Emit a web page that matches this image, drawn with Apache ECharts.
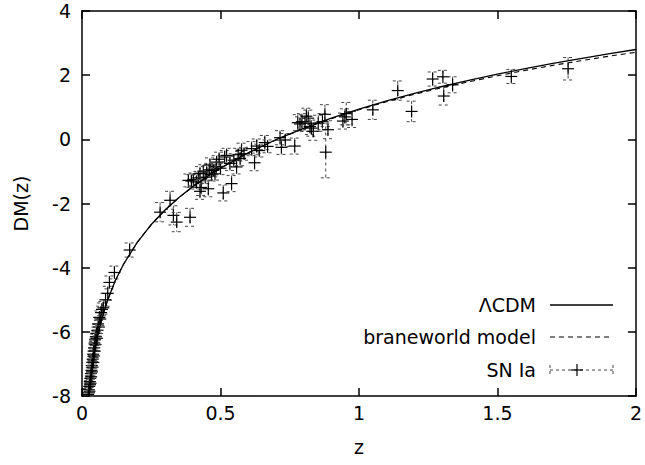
<!DOCTYPE html>
<html>
<head>
<meta charset="utf-8">
<script src="https://cdn.jsdelivr.net/npm/echarts@6/dist/echarts.min.js"></script>
<style>html,body{margin:0;padding:0;background:#fff}#c{width:645px;height:465px}</style>
</head>
<body>
<div id="c"></div>
<script>
// ---- data ----
var xTicks = [0, 0.5, 1, 1.5, 2];
var yTicks = [-8, -6, -4, -2, 0, 2, 4];

var modelZ = [0.015,0.02,0.025,0.03,0.035,0.04,0.045,0.05,0.06,0.07,0.08,0.09,0.1,0.12,0.15,0.2,0.25,0.3,0.35,0.4,0.45,0.5,0.6,0.7,0.8,0.9,1.0,1.1,1.2,1.3,1.4,1.5,1.6,1.7,1.8,1.9,2.0];
var lcdmDM = [-9.094,-8.462,-7.968,-7.564,-7.221,-6.923,-6.660,-6.423,-6.010,-5.660,-5.354,-5.082,-4.843,-4.410,-3.893,-3.203,-2.656,-2.203,-1.814,-1.474,-1.171,-0.897,-0.420,-0.012,0.344,0.659,0.942,1.198,1.432,1.647,1.846,2.031,2.204,2.366,2.518,2.663,2.800];
var braneDM = [-9.094,-8.462,-7.968,-7.564,-7.221,-6.923,-6.660,-6.423,-6.010,-5.660,-5.354,-5.082,-4.843,-4.410,-3.893,-3.203,-2.656,-2.203,-1.814,-1.474,-1.171,-0.897,-0.420,-0.017,0.334,0.644,0.922,1.173,1.402,1.612,1.801,1.981,2.149,2.306,2.448,2.588,2.715];

var snZ = [0.022,0.024,0.025,0.026,0.027,0.028,0.029,0.030,0.031,0.032,0.033,0.034,0.035,0.036,0.037,0.038,0.039,0.040,0.041,0.042,0.043,0.044,0.045,0.046,0.047,0.049,0.050,0.052,0.054,0.056,0.058,0.061,0.063,0.066,0.069,0.072,0.077,0.085,0.093,0.099,0.117,0.172,
0.282,0.318,0.330,0.342,0.390,0.384,0.395,0.402,0.413,0.420,0.426,0.426,0.430,0.438,0.445,0.450,0.456,0.460,0.462,0.468,0.474,0.480,0.485,0.486,0.495,0.500,0.510,0.515,0.522,0.534,0.540,0.548,0.558,0.564,0.571,0.576,0.585,0.612,0.623,0.631,0.640,0.660,0.670,
0.715,0.720,0.734,0.768,0.779,0.787,0.794,0.805,0.810,0.817,0.823,0.828,0.835,0.853,0.868,0.877,0.880,0.888,0.942,0.949,0.954,0.975,
1.050,1.140,1.190,1.266,1.303,1.306,1.338,1.550,1.755];
var snDM = [-7.95,-7.80,-7.90,-7.70,-7.85,-7.55,-7.65,-7.45,-7.60,-7.30,-7.40,-7.20,-7.05,-7.25,-6.95,-7.10,-6.85,-6.70,-6.95,-6.60,-6.75,-6.50,-6.35,-6.60,-6.25,-6.40,-6.15,-6.05,-6.20,-5.95,-5.75,-5.85,-5.55,-5.60,-5.40,-5.30,-5.25,-5.00,-4.80,-4.46,-4.15,-3.45,
-2.27,-1.90,-2.37,-2.58,-2.43,-1.28,-1.30,-1.25,-1.33,-1.20,-1.07,-1.62,-1.50,-0.99,-1.18,-1.05,-1.54,-0.95,-0.80,-1.10,-0.97,-1.07,-0.85,-0.71,-0.62,-0.90,-1.67,-0.55,-0.50,-0.75,-1.38,-0.65,-0.86,-0.48,-0.60,-0.34,-0.45,-0.29,-0.73,-0.21,-0.35,-0.10,-0.22,
0.05,-0.25,-0.02,-0.21,0.52,0.48,0.55,0.50,0.72,0.66,0.40,0.35,0.25,0.50,0.55,0.78,-0.40,0.30,0.57,0.70,0.80,0.62,
0.92,1.52,0.87,1.88,1.95,1.35,1.70,1.96,2.20];
var snErr = [0.18,0.20,0.15,0.18,0.20,0.18,0.20,0.15,0.20,0.18,0.20,0.15,0.18,0.20,0.18,0.20,0.15,0.20,0.18,0.20,0.18,0.20,0.15,0.20,0.18,0.20,0.18,0.20,0.20,0.18,0.20,0.20,0.20,0.20,0.20,0.20,0.20,0.20,0.22,0.20,0.20,0.22,
0.30,0.28,0.30,0.30,0.28,0.20,0.20,0.20,0.22,0.20,0.22,0.25,0.25,0.20,0.20,0.22,0.25,0.20,0.22,0.20,0.20,0.20,0.22,0.20,0.22,0.20,0.25,0.20,0.22,0.22,0.25,0.20,0.22,0.20,0.22,0.22,0.20,0.22,0.25,0.22,0.20,0.22,0.20,
0.22,0.22,0.20,0.25,0.25,0.22,0.25,0.25,0.25,0.25,0.25,0.25,0.28,0.25,0.25,0.30,0.80,0.28,0.25,0.25,0.35,0.25,
0.30,0.30,0.32,0.22,0.20,0.28,0.25,0.22,0.35];

var legendNames = ['\u039BCDM', 'braneworld model', 'SN Ia'];

// ---- chart ----
var FONT = 'DejaVu Sans';
var FS = 19;
var chart = echarts.init(document.getElementById('c'), null, {renderer: 'svg'});

function pairs(xs, ys) { return xs.map(function (x, i) { return [x, ys[i]]; }); }

var axisLineStyle = {color: '#000', width: 1.5};
function xAxisCfg(pos, showLabel) {
  return {
    type: 'value', position: pos, min: xTicks[0], max: xTicks[xTicks.length - 1],
    interval: xTicks[1] - xTicks[0],
    axisLine: {show: true, onZero: false, lineStyle: axisLineStyle},
    axisTick: {show: true, inside: true, length: 8, lineStyle: {color: '#000', width: 1.5}},
    axisLabel: {show: showLabel, color: '#000', fontSize: FS, fontFamily: FONT, margin: 7},
    splitLine: {show: false},
    name: showLabel ? 'z' : '', nameLocation: 'middle', nameGap: 41,
    nameTextStyle: {color: '#000', fontSize: FS, fontFamily: FONT}
  };
}
function yAxisCfg(pos, showLabel) {
  return {
    type: 'value', position: pos, min: yTicks[0], max: yTicks[yTicks.length - 1],
    interval: yTicks[1] - yTicks[0],
    axisLine: {show: true, onZero: false, lineStyle: axisLineStyle},
    axisTick: {show: true, inside: true, length: 8, lineStyle: {color: '#000', width: 1.5}},
    axisLabel: {show: showLabel, color: '#000', fontSize: FS, fontFamily: FONT, margin: 11},
    splitLine: {show: false},
    name: showLabel ? 'DM(z)' : '', nameLocation: 'middle', nameGap: 52,
    nameTextStyle: {color: '#000', fontSize: FS, fontFamily: FONT}
  };
}

var errStyle = {stroke: '#444', lineWidth: 1, lineDash: [3, 3]};
var crossStyle = {stroke: '#000', lineWidth: 1.2};

function renderSN(params, api) {
  var z = api.value(0), dm = api.value(1), e = api.value(2);
  var c = api.coord([z, dm]);
  var t = api.coord([z, dm + e]);
  var b = api.coord([z, dm - e]);
  var cap = 5, arm = 6;
  return {
    type: 'group',
    children: [
      {type: 'line', shape: {x1: c[0], y1: t[1], x2: c[0], y2: b[1]}, style: errStyle},
      {type: 'line', shape: {x1: c[0] - cap, y1: t[1], x2: c[0] + cap, y2: t[1]}, style: errStyle},
      {type: 'line', shape: {x1: c[0] - cap, y1: b[1], x2: c[0] + cap, y2: b[1]}, style: errStyle},
      {type: 'line', shape: {x1: c[0] - arm, y1: c[1], x2: c[0] + arm, y2: c[1]}, style: crossStyle},
      {type: 'line', shape: {x1: c[0], y1: c[1] - arm, x2: c[0], y2: c[1] + arm}, style: crossStyle}
    ]
  };
}

// legend (drawn as graphic)
var lgX = 536, lgL = 550, lgR = 613, lgY = [305, 337, 370];
var legendGraphics = [];
legendNames.forEach(function (n, i) {
  legendGraphics.push({
    type: 'text', x: lgX, y: lgY[i],
    style: {text: n, fill: '#000', fontSize: FS, fontFamily: FONT, textAlign: 'right', textVerticalAlign: 'middle', align: 'right', verticalAlign: 'middle'}
  });
});
legendGraphics.push({type: 'line', shape: {x1: lgL, y1: lgY[0], x2: lgR, y2: lgY[0]}, style: {stroke: '#000', lineWidth: 1.3}});
legendGraphics.push({type: 'line', shape: {x1: lgL, y1: lgY[1], x2: lgR, y2: lgY[1]}, style: {stroke: '#000', lineWidth: 1.1, lineDash: [5, 4]}});
legendGraphics.push({type: 'line', shape: {x1: lgL, y1: lgY[2], x2: lgR, y2: lgY[2]}, style: errStyle});
legendGraphics.push({type: 'line', shape: {x1: lgL, y1: lgY[2] - 5, x2: lgL, y2: lgY[2] + 5}, style: errStyle});
legendGraphics.push({type: 'line', shape: {x1: lgR, y1: lgY[2] - 5, x2: lgR, y2: lgY[2] + 5}, style: errStyle});
legendGraphics.push({type: 'line', shape: {x1: 577, y1: lgY[2] - 6, x2: 577, y2: lgY[2] + 6}, style: crossStyle});
legendGraphics.push({type: 'line', shape: {x1: 571, y1: lgY[2], x2: 583, y2: lgY[2]}, style: crossStyle});

chart.setOption({
  animation: false,
  backgroundColor: '#fff',
  grid: {left: 82, right: 7, top: 11, bottom: 69, containLabel: false},
  xAxis: [xAxisCfg('bottom', true), xAxisCfg('top', false)],
  yAxis: [yAxisCfg('left', true), yAxisCfg('right', false)],
  series: [
    {
      name: legendNames[2], type: 'custom', renderItem: renderSN, clip: true,
      data: snZ.map(function (z, i) { return [z, snDM[i], snErr[i]]; }),
      z: 2
    },
    {
      name: legendNames[1], type: 'line', data: pairs(modelZ, braneDM), showSymbol: false, symbol: 'none',
      clip: true, lineStyle: {color: '#000', width: 1.1, type: [5, 4]}, z: 3
    },
    {
      name: legendNames[0], type: 'line', data: pairs(modelZ, lcdmDM), showSymbol: false, symbol: 'none',
      clip: true, lineStyle: {color: '#000', width: 1.3}, z: 4
    }
  ],
  graphic: legendGraphics
});
</script>
</body>
</html>
